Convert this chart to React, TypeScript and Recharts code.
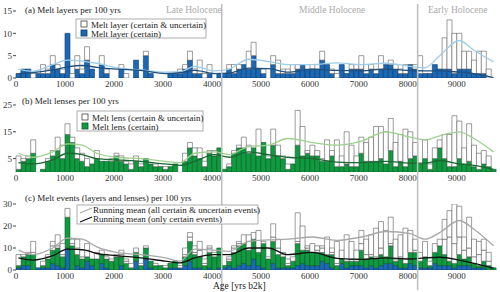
import { ComposedChart, Bar, Line, XAxis, YAxis } from "recharts";

// 100-yr bins, 0..9700 yrs b2k (bin centres)
const binYears = Array.from({ length: 98 }, (_, i) => i * 100 + 50);

// (a) melt layers per 100 yrs
const layerAll = [
  1, 2, 2, 1, 1, 3, 2, 5, 3, 2, 10, 1, 5, 2, 7, 2, 0, 5, 2, 0,
  0, 3, 1, 0, 4, 0, 6, 1, 0, 0, 0, 1, 1, 2, 3, 6, 2, 4, 1, 3,
  0, 1, 1, 3, 3, 3, 3, 6, 8, 2, 2, 0, 5, 4, 2, 2, 3, 3, 3, 3,
  2, 3, 6, 3, 2, 1, 3, 1, 3, 3, 5, 3, 3, 2, 5, 3, 4, 3, 2, 3,
  3, 3, 5, 1, 1, 3, 2, 9, 13, 10, 10, 6, 6, 4, 6, 6, 2, 0,
];
const layerCert = [
  1, 2, 2, 0, 1, 1, 1, 3, 2, 1, 10, 0, 2, 1, 4, 2, 0, 3, 1, 0,
  0, 2, 0, 0, 4, 0, 5, 1, 0, 0, 0, 1, 1, 1, 2, 4, 1, 1, 0, 1,
  0, 1, 1, 2, 1, 2, 3, 2, 5, 2, 1, 0, 3, 1, 1, 1, 1, 2, 3, 2,
  2, 2, 4, 3, 1, 0, 3, 1, 2, 2, 2, 1, 2, 1, 2, 3, 3, 2, 1, 1,
  3, 2, 1, 1, 1, 3, 2, 2, 2, 1, 2, 2, 2, 1, 1, 1, 0, 0,
];

// (b) melt lenses per 100 yrs
const lensAll = [
  6, 5, 6, 12, 0, 1, 5, 8, 13, 10, 18, 13, 9, 7, 5, 3, 8, 4, 4, 5,
  7, 6, 4, 3, 6, 3, 5, 3, 3, 2, 2, 2, 3, 0, 7, 11, 9, 9, 4, 8,
  8, 9, 1, 3, 8, 10, 13, 10, 9, 16, 11, 6, 16, 10, 6, 3, 3, 23, 17, 8,
  10, 8, 5, 12, 8, 12, 6, 15, 10, 6, 13, 11, 13, 17, 17, 15, 20, 11, 14, 16,
  15, 11, 3, 12, 3, 9, 12, 14, 14, 21, 19, 9, 18, 10, 7, 8, 6, 1,
];
const lensCert = [
  1, 4, 5, 7, 0, 1, 4, 6, 8, 5, 14, 11, 5, 4, 2, 3, 5, 4, 4, 4,
  6, 4, 3, 1, 4, 2, 5, 3, 2, 2, 1, 2, 3, 0, 4, 9, 6, 5, 2, 7,
  6, 9, 1, 2, 7, 9, 9, 7, 9, 6, 11, 5, 10, 6, 5, 1, 3, 10, 6, 7,
  6, 6, 4, 4, 6, 2, 2, 3, 2, 2, 7, 4, 4, 4, 5, 3, 8, 2, 4, 2,
  5, 6, 3, 5, 1, 5, 9, 5, 2, 2, 5, 3, 4, 2, 1, 3, 2, 1,
];

// running means (at bin centres)
const meanYears = [
  50, 350, 750, 1050, 1350, 1650, 2050, 2550, 3050, 3350, 3650, 4050, 4350,
  4750, 5150, 5550, 6050, 6550, 7050, 7550, 8050, 8350, 8650, 9050, 9350, 9750,
];
const layerAllMean = [2, 1.5, 3, 4, 3.8, 3.3, 2.3, 1.8, 1.3, 1.4, 2.6, 1.6, 2, 4.2, 3.7, 3, 3, 3.4, 3, 3.3, 2.6, 2.3, 5, 8.4, 6.2, 3.6];
const layerCertMean = [1, 1.2, 1.8, 2.5, 2.8, 2.4, 2, 1.7, 1, 1.2, 1.7, 1, 1.1, 2.2, 2.1, 1.3, 2, 1.7, 1.6, 2, 1.7, 1.6, 1.6, 1.3, 1, 0.1];
const lensAllMean = [7, 5.5, 7.5, 10.5, 10, 7, 5.5, 5, 4, 3.5, 7, 7.5, 6.5, 9.5, 10, 12.5, 11, 10, 11.5, 15, 13, 12, 13.5, 15, 12.5, 7.5];
const lensCertMean = [3.5, 3, 4.5, 7, 6.5, 5, 4.5, 4, 3, 2.5, 4, 6.5, 5.5, 7.5, 6.5, 5.5, 5, 3.7, 3.5, 4, 3.3, 3.3, 4.3, 3, 2.5, 1];
const eventAllMean = [9, 7, 10, 14.5, 14, 10.5, 8, 7, 5.5, 4, 9.5, 9, 8.5, 13, 13.7, 14, 15, 13.5, 15, 17.5, 16.5, 14, 17, 22.5, 18.5, 11];
const eventCertMean = [5.5, 4.5, 6.5, 9.5, 9.3, 7.5, 6.5, 5.5, 4, 3.2, 5.5, 7, 7, 10, 10, 7, 8, 5.3, 4.8, 5.5, 5, 5.5, 5.8, 4.5, 3, 0.8];

const xTicks = [0, 1000, 2000, 3000, 4000, 5000, 6000, 7000, 8000, 9000];
const epochLines = [4200, 8200];

const FONT = "'Liberation Serif', 'Times New Roman', serif";
const BLUE = "#1b69b4";
const BLUE_EDGE = "#0d3b6b";
const GREEN = "#0f9a40";
const GREEN_EDGE = "#0b5a27";
const WHITE_EDGE = "#5a5a5a";

const meanAt = (vals: number[], year: number) => {
  const k = meanYears.indexOf(year);
  return k < 0 ? null : vals[k];
};

const table = binYears.map((year, i) => ({
  year,
  layerCert: layerCert[i],
  layerUnc: layerAll[i] - layerCert[i],
  lensCert: lensCert[i],
  lensUnc: lensAll[i] - lensCert[i],
  layerAllMean: meanAt(layerAllMean, year),
  layerCertMean: meanAt(layerCertMean, year),
  lensAllMean: meanAt(lensAllMean, year),
  lensCertMean: meanAt(lensCertMean, year),
  eventAllMean: meanAt(eventAllMean, year),
  eventCertMean: meanAt(eventCertMean, year),
}));

type BarDef = { key: string; fill: string; stroke: string };
type LineDef = { key: string; color: string; width: number };

const PLOT_LEFT = 16;
const PLOT_W = 480;
const xPx = (yr: number) => PLOT_LEFT + (yr / 9800) * PLOT_W;

function Panel({
  top,
  height,
  bottom,
  yMax,
  yTicks,
  bars,
  lines,
}: {
  top: number;
  height: number;
  bottom: number;
  yMax: number;
  yTicks: number[];
  bars: BarDef[];
  lines: LineDef[];
}) {
  return (
    <div style={{ position: "absolute", left: 0, top }}>
      <ComposedChart
        width={500}
        height={height}
        data={table}
        barCategoryGap={0}
        margin={{ top: 11, right: 4, left: 0, bottom }}
      >
        <XAxis xAxisId="bins" dataKey="year" type="category" hide />
        <XAxis
          xAxisId="age"
          dataKey="year"
          type="number"
          domain={[0, 9800]}
          ticks={xTicks}
          allowDataOverflow
          axisLine={false}
          tickLine={false}
          tickSize={0}
          tickMargin={3}
          height={14}
          tick={{ fontSize: 9, fontFamily: FONT, fill: "#333" }}
        />
        <YAxis
          domain={[0, yMax]}
          ticks={yTicks}
          allowDataOverflow
          width={16}
          axisLine={false}
          tickSize={3}
          tickMargin={1}
          tickLine={{ stroke: "#444" }}
          tick={{ fontSize: 9, fontFamily: FONT, fill: "#333" }}
        />
        {bars.map((b) => (
          <Bar
            key={b.key}
            xAxisId="bins"
            dataKey={b.key}
            stackId="s"
            fill={b.fill}
            stroke={b.stroke}
            strokeWidth={0.6}
            isAnimationActive={false}
          />
        ))}
        {lines.map((l) => (
          <Line
            key={l.key}
            xAxisId="bins"
            dataKey={l.key}
            type="monotone"
            connectNulls
            stroke={l.color}
            strokeWidth={l.width}
            dot={false}
            isAnimationActive={false}
          />
        ))}
      </ComposedChart>
    </div>
  );
}

function Square({ x, y, fill, stroke }: { x: number; y: number; fill: string; stroke: string }) {
  return <rect x={x} y={y} width={6} height={6} fill={fill} stroke={stroke} strokeWidth={0.8} />;
}

export default function App() {
  const txt = { fontFamily: FONT, fontSize: 9, fill: "#222" };
  const epoch = { fontFamily: FONT, fontSize: 9.5, fill: "#aaa" };
  return (
    <div style={{ position: "absolute", left: 0, top: 0, width: 500, height: 292, background: "#fff" }}>
      <Panel
        top={0}
        height={92}
        bottom={0}
        yMax={15}
        yTicks={[0, 5, 10, 15]}
        bars={[
          { key: "layerCert", fill: BLUE, stroke: BLUE_EDGE },
          { key: "layerUnc", fill: "#fff", stroke: WHITE_EDGE },
        ]}
        lines={[
          { key: "layerAllMean", color: "#9fcdea", width: 1.3 },
          { key: "layerCertMean", color: "#1f4f7c", width: 1.3 },
        ]}
      />
      <Panel
        top={94}
        height={92}
        bottom={0}
        yMax={25}
        yTicks={[0, 5, 10, 15, 20, 25]}
        bars={[
          { key: "lensCert", fill: GREEN, stroke: GREEN_EDGE },
          { key: "lensUnc", fill: "#fff", stroke: WHITE_EDGE },
        ]}
        lines={[
          { key: "lensAllMean", color: "#9ed08e", width: 1.3 },
          { key: "lensCertMean", color: "#1d6532", width: 1.3 },
        ]}
      />
      <Panel
        top={193}
        height={99}
        bottom={8}
        yMax={30}
        yTicks={[0, 10, 20, 30]}
        bars={[
          { key: "layerCert", fill: BLUE, stroke: BLUE_EDGE },
          { key: "lensCert", fill: GREEN, stroke: GREEN_EDGE },
          { key: "layerUnc", fill: "#fff", stroke: WHITE_EDGE },
          { key: "lensUnc", fill: "#fff", stroke: WHITE_EDGE },
        ]}
        lines={[
          { key: "eventAllMean", color: "#a8a8a8", width: 1.3 },
          { key: "eventCertMean", color: "#111", width: 1.3 },
        ]}
      />
      <svg
        width={500}
        height={292}
        style={{ position: "absolute", left: 0, top: 0, pointerEvents: "none" }}
      >
        {epochLines.map((yr) => (
          <line key={yr} x1={xPx(yr)} x2={xPx(yr)} y1={4} y2={290} stroke="#bdbdbd" strokeWidth={1.5} />
        ))}
        <text x={166} y={13} {...epoch}>Late Holocene</text>
        <text x={299} y={13} {...epoch}>Middle Holocene</text>
        <text x={428} y={13} {...epoch}>Early Holocene</text>

        <text x={25} y={13} {...txt}>(a) Melt layers per 100 yrs</text>
        <rect x={76} y={19} width={130} height={19} fill="#fff" stroke="#999" strokeWidth={0.8} />
        <Square x={81} y={21} fill="#fff" stroke="#444" />
        <text x={91} y={27.5} {...txt}>Melt layer (certain &amp; uncertain)</text>
        <Square x={81} y={30} fill={BLUE} stroke={BLUE_EDGE} />
        <text x={91} y={36.5} {...txt}>Melt layer (certain)</text>

        <text x={22} y={104} {...txt}>(b) Melt lenses per 100 yrs</text>
        <rect x={77} y={111} width={126} height={20} fill="#fff" stroke="#999" strokeWidth={0.8} />
        <Square x={82} y={114} fill="#fff" stroke="#444" />
        <text x={92} y={120.5} {...txt}>Melt lens (certain &amp; uncertain)</text>
        <Square x={82} y={123} fill={GREEN} stroke={GREEN_EDGE} />
        <text x={92} y={129.5} {...txt}>Melt lens (certain)</text>

        <text x={25} y={201} {...txt}>(c) Melt events (layers and lenses) per 100 yrs</text>
        <rect x={77} y={205} width={181} height={19} fill="#fff" stroke="#999" strokeWidth={0.8} />
        <line x1={80} y1={213} x2={92} y2={208} stroke="#a8a8a8" strokeWidth={1.3} />
        <text x={93} y={213} {...txt}>Running mean (all certain &amp; uncertain events)</text>
        <line x1={80} y1={222} x2={92} y2={217} stroke="#111" strokeWidth={1.3} />
        <text x={93} y={221.5} {...txt}>Running mean (only certain events)</text>

        <text x={213} y={289} {...txt} fontSize={9.5}>Age [yrs b2k]</text>
      </svg>
    </div>
  );
}
